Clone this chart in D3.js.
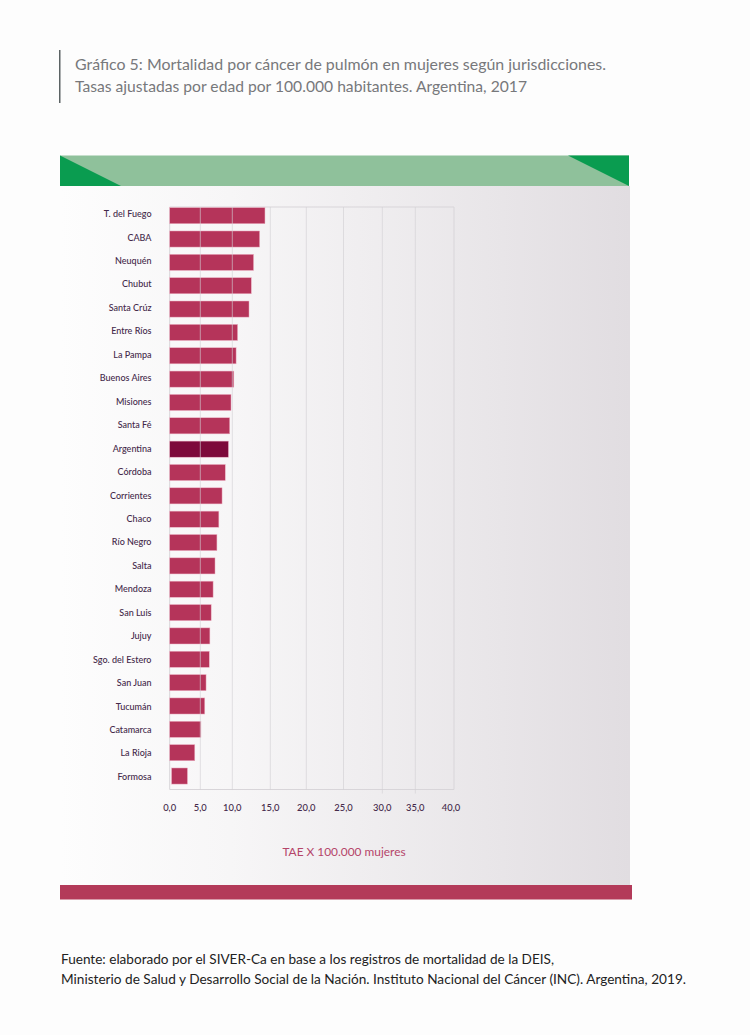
<!DOCTYPE html>
<html>
<head>
<meta charset="utf-8">
<script src="https://cdn.jsdelivr.net/npm/d3@7"></script>
<style>
  html, body { margin: 0; padding: 0; background: #fdfdfd; }
  svg { display: block; font-family: Lato, "Open Sans", sans-serif; }
</style>
</head>
<body>
<div id="chart"></div>
<script>
const jurisdictions = ['T. del Fuego', 'CABA', 'Neuquén', 'Chubut', 'Santa Crúz', 'Entre Ríos', 'La Pampa',
    'Buenos Aires', 'Misiones', 'Santa Fé', 'Argentina', 'Córdoba', 'Corrientes', 'Chaco', 'Río Negro', 'Salta',
    'Mendoza', 'San Luis', 'Jujuy', 'Sgo. del Estero', 'San Juan', 'Tucumán', 'Catamarca', 'La Rioja', 'Formosa'];
const rates = [14.3, 13.6, 12.8, 12.5, 12.2, 10.7, 10.5, 10.2, 9.8, 9.6, 9.4, 8.9, 8.4, 7.9, 7.6, 7.3,
    7.0, 6.7, 6.5, 6.4, 5.9, 5.7, 5.1, 4.1, 2.9];
// the Formosa bar does not start on the axis in the original
const barStarts = [0, 0, 0, 0, 0, 0, 0, 0, 0, 0, 0, 0, 0, 0, 0, 0, 0, 0, 0, 0, 0, 0, 0, 0, 0.3];
const tickValues = [0, 5, 10, 15, 20, 25, 30, 35, 40];
const titleLines = ['Gráfico 5: Mortalidad por cáncer de pulmón en mujeres según jurisdicciones.',
    'Tasas ajustadas por edad por 100.000 habitantes. Argentina, 2017'];
const sourceLines = ['Fuente: elaborado por el SIVER-Ca en base a los registros de mortalidad de la DEIS,',
    'Ministerio de Salud y Desarrollo Social de la Nación. Instituto Nacional del Cáncer (INC). Argentina, 2019.'];

const width = 750, height = 1035;
const svg = d3.select('#chart').append('svg').attr('width', width).attr('height', height);

const defs = svg.append('defs');
const grad = defs.append('linearGradient').attr('id', 'panel-bg');
grad.append('stop').attr('offset', '0%').attr('stop-color', '#fdfdfd');
grad.append('stop').attr('offset', '30%').attr('stop-color', '#f7f6f7');
grad.append('stop').attr('offset', '100%').attr('stop-color', '#e1dde1');

// background panel + header band
svg.append('rect').attr('x', 60).attr('y', 186).attr('width', 570).attr('height', 700).attr('fill', 'url(#panel-bg)');
svg.append('rect').attr('x', 60).attr('y', 155.5).attr('width', 569).attr('height', 30.5).attr('fill', '#8fc19b');
svg.append('path').attr('d', 'M60,155.5L60,186L121,186Z').attr('fill', '#0a9c50');
svg.append('path').attr('d', 'M568,155.5L629,155.5L629,186Z').attr('fill', '#0a9c50');
svg.append('rect').attr('x', 60).attr('y', 885).attr('width', 572).attr('height', 14.5).attr('fill', '#b33a59');

// title
svg.append('rect').attr('x', 59).attr('y', 50).attr('width', 1.5).attr('height', 53).attr('fill', '#5c6364');
svg.append('g').selectAll('text').data(titleLines).join('text')
    .attr('x', 75).attr('y', (d, i) => 70 + i * 22)
    .attr('font-size', 16).attr('fill', '#77787b')
    .attr('textLength', (d, i) => i === 0 ? 531 : 452)
    .attr('lengthAdjust', 'spacingAndGlyphs')
    .text(d => d);

// gridlines in the original are hand placed and not quite even, so the scale follows them
const x = d3.scaleLinear().domain(tickValues).range([169.7, 200.3, 232.3, 270.3, 306.3, 343.5, 382.3, 415.3, 454]);
const y = d3.scaleBand().domain(jurisdictions).range([204, 787.7]).paddingInner(0.31).paddingOuter(0.155);
// labels drift a little against the bars
const labelY = d3.scalePoint().domain(jurisdictions).range([214, 776.7]);
const plotTop = 207, plotBottom = 789.5;

const rows = jurisdictions.map((name, i) => ({ name, value: rates[i], start: barStarts[i] }));

// plot frame
svg.append('path')
    .attr('d', `M${x(0)},${plotTop}H${x(40)}V${plotBottom}H${x(0)}Z`)
    .attr('fill', 'none').attr('stroke', '#d8d5d9').attr('stroke-width', 1);

svg.append('g').selectAll('rect').data(rows).join('rect')
    .attr('x', d => x(d.start))
    .attr('y', d => y(d.name))
    .attr('width', d => x(d.value) - x(d.start))
    .attr('height', y.bandwidth())
    .attr('fill', d => d.name === 'Argentina' ? '#7d0a3b' : '#b5345a')
    .attr('stroke', '#eeb4c6').attr('stroke-width', 0.5);

svg.append('g').selectAll('line').data(tickValues.slice(1, -1)).join('line')
    .attr('x1', d => x(d)).attr('x2', d => x(d))
    .attr('y1', plotTop).attr('y2', d => d === 30 || d === 35 ? plotBottom + 4 : plotBottom)
    .attr('stroke', '#d2cfd3').attr('stroke-opacity', 0.8).attr('stroke-width', 0.8);

// category labels
svg.append('g').selectAll('text').data(rows).join('text')
    .attr('x', 151.5).attr('y', d => labelY(d.name))
    .attr('dy', '0.35em').attr('text-anchor', 'end')
    .attr('font-size', 9).attr('font-weight', 500).attr('fill', '#44294a')
    .text(d => d.name);

// tick labels
svg.append('g').selectAll('text').data(tickValues).join('text')
    .attr('x', d => d === 40 ? x(d) - 3 : x(d))
    .attr('y', 810.5).attr('text-anchor', 'middle')
    .attr('font-size', 9.4).attr('font-weight', 500).attr('fill', '#44294a')
    .text(d => d3.format('.1f')(d).replace('.', ','));

svg.append('text')
    .attr('x', 344).attr('y', 855.5).attr('text-anchor', 'middle')
    .attr('font-size', 11.9).attr('fill', '#b5456a')
    .text('TAE X 100.000 mujeres');

// source
svg.append('g').selectAll('text').data(sourceLines).join('text')
    .attr('x', 61).attr('y', (d, i) => 964 + i * 20)
    .attr('font-size', 14).attr('fill', '#222')
    .attr('textLength', (d, i) => i === 0 ? 493 : 625)
    .attr('lengthAdjust', 'spacingAndGlyphs')
    .text(d => d);
</script>
</body>
</html>
